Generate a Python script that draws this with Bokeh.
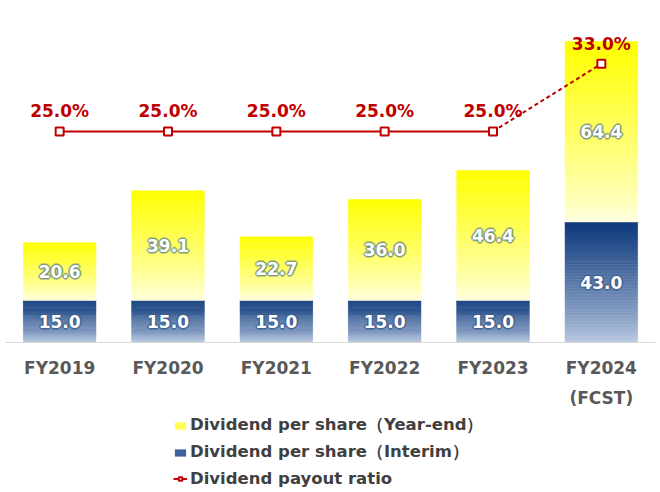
from bokeh.plotting import figure
from bokeh.layouts import column
from bokeh.models import (ColumnDataSource, FactorRange, Range1d,
                          Legend, LegendItem)
from bokeh.core.properties import value
from bokeh.embed import file_html
from bokeh.resources import INLINE

# ---- data ----
categories = ["FY2019", "FY2020", "FY2021", "FY2022", "FY2023", "FY2024\n(FCST)"]
interim = [15.0, 15.0, 15.0, 15.0, 15.0, 43.0]
year_end = [20.6, 39.1, 22.7, 36.0, 46.4, 64.4]
payout = [25.0, 25.0, 25.0, 25.0, 25.0, 33.0]
legend_labels = ["Dividend per share（Year-end）", "Dividend per share（Interim）",
                 "Dividend payout ratio"]

FONT = "DejaVu Sans"
RED = "#C00000"

p = figure(x_range=FactorRange(factors=categories, range_padding=0),
           y_range=Range1d(0, 122),
           frame_width=650, frame_height=342,
           min_border_left=5, min_border_right=5, min_border_top=0,
           min_border_bottom=68,
           output_backend="svg", toolbar_location=None)
p.extra_y_ranges = {"ratio": Range1d(0, 40.5)}
p.outline_line_color = None
p.grid.visible = False
p.yaxis.visible = False
p.background_fill_color = "white"
p.border_fill_color = "white"


def lerp(c1, c2, t):
    return "#%02x%02x%02x" % tuple(int(round(a + (b - a) * t)) for a, b in zip(c1, c2))


def gradient_segments(bottoms, tops, c_top, c_bottom, n=40):
    xs, b, t, cols = [], [], [], []
    for cat, lo, hi in zip(categories, bottoms, tops):
        for k in range(n):
            y0 = lo + (hi - lo) * k / n
            y1 = lo + (hi - lo) * (k + 1) / n
            xs.append(cat)
            b.append(y0)
            t.append(y1)
            cols.append(lerp(c_bottom, c_top, ((k + 0.5) / n) ** 0.8))
    return ColumnDataSource(dict(x=xs, bottom=b, top=t, color=cols))


WIDTH = 0.67
tot = [a + b for a, b in zip(interim, year_end)]
src_int = gradient_segments([0] * 6, interim, (14, 58, 124), (190, 205, 228))
src_ye = gradient_segments(interim, tot, (255, 255, 0), (255, 255, 228))
p.vbar(x="x", bottom="bottom", top="top", width=WIDTH, fill_color="color",
       line_color="color", line_width=0.5, source=src_int)
p.vbar(x="x", bottom="bottom", top="top", width=WIDTH, fill_color="color",
       line_color="color", line_width=0.5, source=src_ye)

# value labels (halo + white text)
lab = ColumnDataSource(dict(
    x=categories,
    yi=[v / 2 for v in interim],
    ti=["%.1f" % v for v in interim],
    ye=[a + b / 2 for a, b in zip(interim, year_end)],
    te=["%.1f" % v for v in year_end],
))
offsets = [(-1, -1), (0, -1), (1, -1), (-1, 0), (1, 0), (-1, 1), (0, 1), (1, 1),
           (-2, 0), (2, 0), (0, -2), (0, 2)]
for yk, tk, halo in (("yi", "ti", "#3F5F90"), ("ye", "te", "#6F8C7E")):
    for dx, dy in offsets:
        p.text(x="x", y=yk, text=tk, source=lab, x_offset=dx, y_offset=dy,
               text_align="center", text_baseline="middle", text_color=halo,
               text_alpha=0.45, text_font=value(FONT), text_font_style="bold",
               text_font_size="17px")
    p.text(x="x", y=yk, text=tk, source=lab, text_align="center",
           text_baseline="middle", text_color="white",
           text_font=value(FONT), text_font_style="bold", text_font_size="17px")

# payout ratio line
p.line(x=categories[:5], y=payout[:5], y_range_name="ratio",
       line_color=RED, line_width=2)
p.line(x=categories[4:], y=payout[4:], y_range_name="ratio",
       line_color=RED, line_width=2, line_dash="4 3")
p.scatter(x=categories, y=payout, y_range_name="ratio", marker="square",
          size=8, fill_color="white", line_color=RED, line_width=2)
p.text(x=categories, y=payout, text=["%.1f%%" % v for v in payout],
       y_range_name="ratio", y_offset=-10, text_align="center",
       text_baseline="bottom", text_color=RED, text_font=value(FONT),
       text_font_style="bold", text_font_size="17px")

# x axis
xa = p.xaxis[0]
xa.axis_line_color = "#D9D9D9"
xa.major_tick_line_color = None
xa.minor_tick_line_color = None
xa.major_label_text_font = FONT
xa.major_label_text_font_style = "bold"
xa.major_label_text_font_size = "17px"
xa.major_label_text_color = "#595959"
xa.major_label_text_line_height = 1.5
xa.major_label_standoff = 9

# legend figure (dummy renderers placed outside the visible range)
q = figure(width=660, height=82, x_range=Range1d(0, 1), y_range=Range1d(0, 1),
           min_border=0, output_backend="svg", toolbar_location=None)
q.axis.visible = False
q.grid.visible = False
q.outline_line_color = None
d1 = q.vbar(x=[-10], top=[-10], width=0.5, fill_color="#FFFF50", line_color=None)
d2 = q.vbar(x=[-10], top=[-10], width=0.5, fill_color="#3C62A0", line_color=None)
d3 = q.line(x=[-10, -9], y=[-10, -10], line_color=RED, line_width=2)
d4 = q.scatter(x=[-10], y=[-10], marker="square", size=6, fill_color="white",
               line_color=RED, line_width=2)
legend = Legend(items=[
    LegendItem(label=legend_labels[0], renderers=[d1]),
    LegendItem(label=legend_labels[1], renderers=[d2]),
    LegendItem(label=legend_labels[2], renderers=[d3, d4]),
], location=(168, 4), orientation="vertical",
    label_text_font=FONT, label_text_font_style="bold",
    label_text_font_size="16.5px", label_text_color="#404040",
    glyph_width=14, glyph_height=9, label_standoff=3, spacing=5,
    padding=2, margin=0, border_line_color=None, background_fill_alpha=0,
    label_height=20)
q.add_layout(legend)

open("out.html", "w").write(file_html(column(p, q, spacing=0), INLINE))
